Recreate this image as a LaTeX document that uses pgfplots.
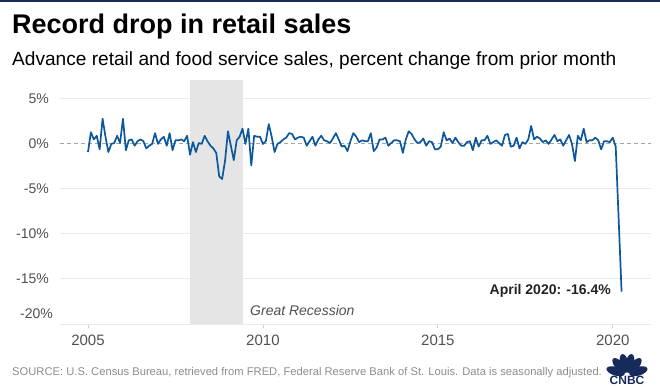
\documentclass[border=0pt]{standalone}
\usepackage{fontspec}
\setmainfont{Liberation Sans}
\usepackage{pgfplots}
\pgfplotsset{compat=1.18}
\definecolor{serie}{RGB}{12,88,155}
\definecolor{navy}{RGB}{22,42,92}
\definecolor{band}{RGB}{229,229,229}
\definecolor{gridc}{RGB}{234,234,234}
\definecolor{zero}{RGB}{165,165,165}
\definecolor{tickc}{RGB}{80,80,80}
\definecolor{src}{RGB}{140,140,140}
\definecolor{dark}{RGB}{35,35,35}
\begin{document}
\begin{tikzpicture}
\path[use as bounding box] (0pt,0pt) rectangle (660pt,-387pt);
\fill[navy] (0pt,0pt) rectangle (660pt,-2pt);
\node[anchor=base west, inner sep=0] at (12pt,-34pt) {\fontsize{27}{31}\selectfont\bfseries Record drop in retail sales};
\node[anchor=base west, inner sep=0] at (12pt,-66pt) {\fontsize{19.1}{22}\selectfont Advance retail and food service sales, percent change from prior month};
\begin{axis}[
  at={(60pt,-324pt)}, anchor=south west, scale only axis,
  width=591pt, height=244pt,
  xmin=-9.6, xmax=193.1, ymin=-20, ymax=7.1,
  axis x line*=bottom, axis y line*=left,
  x axis line style={-, draw=gridc, line width=1pt},
  y axis line style={draw=none},
  xtick={0,60,120,180}, xticklabels={2005,2010,2015,2020},
  tick align=outside, major tick length=4pt,
  xtick style={draw=gray!35, line width=0.8pt},
  ytick={-15,-10,-5,5}, yticklabels={-15\%,-10\%,-5\%,5\%},
  ytick style={draw=none},
  ymajorgrids, grid style={gridc, line width=1pt},
  extra y ticks={0}, extra y tick labels={0\%},
  extra y tick style={grid style={zero, dash pattern=on 4pt off 3pt, line width=1pt}, ytick style={draw=none}},
  yticklabel style={font=\fontsize{14}{16}\selectfont, text=tickc, anchor=east, inner sep=0pt, xshift=-7pt},
  xticklabel style={font=\fontsize{15}{17}\selectfont, text=tickc, yshift=-3pt},
  clip=false,
]
\addplot[fill=band, draw=none] coordinates {(35,-20) (53,-20) (53,7.1) (35,7.1)} -- cycle;
\addplot[serie, line width=1.7pt, line join=round] coordinates {
(0,-0.9) (1,1.3) (2,0.5) (3,0.9) (4,-0.6) (5,2.8) (6,0.8) (7,-0.9) (8,0.0) (9,0.1) (10,0.9) (11,0.1)
(12,2.8) (13,-0.7) (14,0.4) (15,0.5) (16,-0.2) (17,0.3) (18,0.5) (19,0.3) (20,-0.5) (21,-0.2) (22,0.0) (23,1.2)
(24,0.0) (25,0.5) (26,0.8) (27,-0.2) (28,1.2) (29,-0.7) (30,0.4) (31,0.4) (32,0.5) (33,0.3) (34,0.9) (35,-1.2)
(36,0.2) (37,-0.9) (38,0.1) (39,0.0) (40,0.9) (41,0.3) (42,-0.2) (43,-0.5) (44,-1.0) (45,-3.6) (46,-3.9) (47,-1.9)
(48,1.4) (49,-0.2) (50,-1.8) (51,0.4) (52,0.8) (53,1.7) (54,0.0) (55,1.7) (56,-2.4) (57,0.9) (58,0.8) (59,0.8)
(60,0.0) (61,0.3) (62,2.2) (63,0.8) (64,-0.9) (65,0.0) (66,0.2) (67,0.5) (68,0.7) (69,1.2) (70,1.1) (71,0.5)
(72,0.7) (73,0.8) (74,0.7) (75,-0.2) (76,0.3) (77,0.8) (78,-0.2) (79,0.5) (80,0.9) (81,0.4) (82,0.3) (83,0.1)
(84,0.6) (85,1.2) (86,0.5) (87,-0.3) (88,-0.2) (89,-0.8) (90,0.3) (91,1.2) (92,0.8) (93,0.2) (94,0.4) (95,0.3)
(96,0.3) (97,1.2) (98,-0.8) (99,-0.4) (100,0.5) (101,0.5) (102,0.7) (103,-0.2) (104,0.1) (105,0.4) (106,0.4) (107,0.3)
(108,-1.0) (109,0.5) (110,1.4) (111,1.1) (112,0.5) (113,0.1) (114,0.2) (115,0.6) (116,-0.2) (117,0.3) (118,0.2) (119,-0.6)
(120,-0.6) (121,-0.3) (122,1.3) (123,0.4) (124,0.6) (125,0.1) (126,0.7) (127,0.2) (128,-0.2) (129,-0.2) (130,0.2) (131,0.3)
(132,-0.7) (133,0.7) (134,-0.3) (135,0.4) (136,0.4) (137,0.9) (138,0.0) (139,0.2) (140,0.4) (141,0.1) (142,-0.2) (143,1.0)
(144,1.1) (145,-0.3) (146,-0.2) (147,0.7) (148,-0.5) (149,0.2) (150,0.0) (151,0.5) (152,2.0) (153,0.5) (154,0.8) (155,0.6)
(156,0.2) (157,0.4) (158,0.0) (159,0.5) (160,1.0) (161,0.3) (162,0.5) (163,-0.2) (164,0.4) (165,1.0) (166,0.0) (167,-1.9)
(168,0.9) (169,0.4) (170,1.7) (171,0.2) (172,0.4) (173,0.4) (174,0.7) (175,0.4) (176,-0.6) (177,0.3) (178,0.3) (179,0.2)
(180,0.7) (181,-0.3) (182,-8.3) (183,-16.4)
};
\end{axis}
\node[anchor=east, inner sep=0, text=tickc] at (53pt,-314pt) {\fontsize{14}{16}\selectfont -20\%};
\node[anchor=base west, inner sep=0, text=dark!80] at (250pt,-315pt) {\fontsize{14}{16}\selectfont\itshape Great Recession};
\node[anchor=base east, inner sep=0, text=dark] at (611pt,-294pt) {\fontsize{14}{16}\selectfont\bfseries April 2020: -16.4\%};
\node[anchor=base west, inner sep=0, text=src] at (12pt,-375pt) {\fontsize{11.2}{13}\selectfont SOURCE: U.S. Census Bureau, retrieved from FRED, Federal Reserve Bank of St. Louis. Data is seasonally adjusted.};
\foreach \a in {162,130,103,77,50,18}
  \fill[navy, rotate around={\a:(627pt,-375pt)}] (639pt,-375pt) ellipse (9.5pt and 4.3pt);
\node[anchor=base, inner sep=0, text=navy] at (627pt,-384pt) {\fontsize{12}{12}\selectfont\bfseries CNBC};
\end{tikzpicture}
\end{document}
